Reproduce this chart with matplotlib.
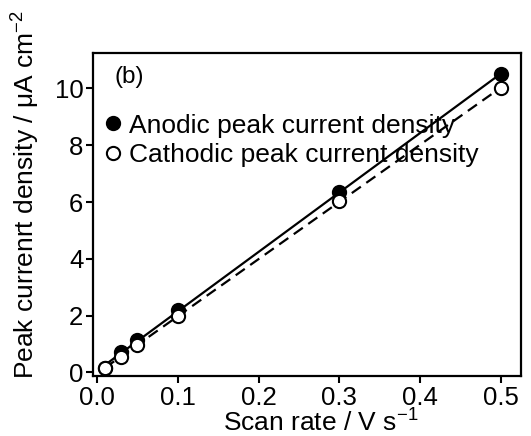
import numpy as np
import matplotlib
matplotlib.use("Agg")
import matplotlib.pyplot as plt

plt.rcParams['font.family'] = ['Liberation Sans', 'DejaVu Sans']
plt.rcParams['mathtext.fontset'] = 'custom'
plt.rcParams['mathtext.rm'] = 'Liberation Sans'

scan_rate = [0.01, 0.03, 0.05, 0.1, 0.3, 0.5]
anodic = [0.15, 0.7, 1.15, 2.2, 6.35, 10.5]
cathodic = [0.15, 0.55, 0.95, 2.0, 6.05, 10.0]
xticks = [0.0, 0.1, 0.2, 0.3, 0.4, 0.5]
yticks = [0, 2, 4, 6, 8, 10]

fig = plt.figure(figsize=(5.31, 4.36), dpi=100)
ax = fig.add_axes([93/531, 1-376/436, (521-93)/531, (376-53)/436])

x = np.array(scan_rate)
pa = np.polyfit(x, anodic, 1)
pc = np.polyfit(x, cathodic, 1)
xf = np.array([x.min(), x.max()])
ax.plot(xf, np.polyval(pa, xf), '-', color='black', lw=1.6, zorder=2)
ax.plot(xf, np.polyval(pc, xf), '--', color='black', lw=1.6, dashes=(5, 3), zorder=2)
ax.plot(x, anodic, 'o', color='black', ms=9.5, mec='black', mew=1.5, ls='none',
        label='Anodic peak current density', zorder=3)
ax.plot(x, cathodic, 'o', color='white', ms=9.5, mec='black', mew=1.5, ls='none',
        label='Cathodic peak current density', zorder=4)

ax.set_xlim(-0.005, 0.525)
ax.set_ylim(-0.13, 11.25)
ax.set_xticks(xticks)
ax.set_xticklabels([f"{v:.1f}" for v in xticks])
ax.set_yticks(yticks)
ax.tick_params(direction='out', length=5, width=1.5, labelsize=18.5, pad=2)
for s in ax.spines.values():
    s.set_linewidth(1.6)

ax.set_xlabel('Scan rate / V s$^{-1}$', fontsize=19)
ax.xaxis.set_label_coords(0.533, -0.098)
ax.set_ylabel('Peak currenrt density / μA cm$^{-2}$', fontsize=19)
ax.yaxis.set_label_coords(-0.121, 0.563)
ax.text(0.05, 0.926, '(b)', transform=ax.transAxes, fontsize=17.5, va='center', ha='left')

ax.legend(loc='upper left', bbox_to_anchor=(-0.015, 0.845), frameon=False, fontsize=19,
          handletextpad=0.0, handlelength=1.2, labelspacing=0.2, borderaxespad=0)

fig.savefig('out.png', dpi=100)
